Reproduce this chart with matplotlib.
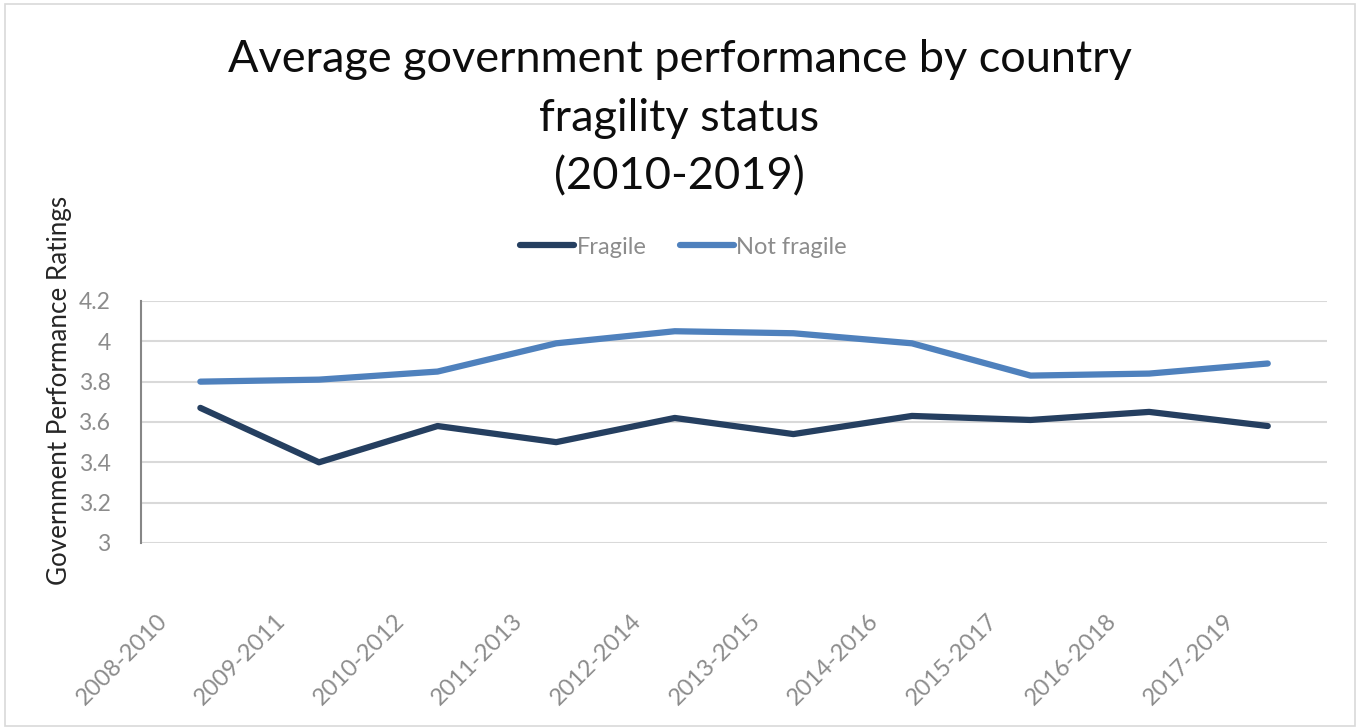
import numpy as np
import matplotlib.pyplot as plt
from matplotlib.patches import Rectangle
from matplotlib.transforms import ScaledTranslation

plt.rcParams['font.family'] = ['Lato', 'DejaVu Sans']

# Datos
periods = ["2008-2010", "2009-2011", "2010-2012", "2011-2013", "2012-2014",
           "2013-2015", "2014-2016", "2015-2017", "2016-2018", "2017-2019"]
fragile = [3.67, 3.40, 3.58, 3.50, 3.62, 3.54, 3.63, 3.61, 3.65, 3.58]
not_fragile = [3.80, 3.81, 3.85, 3.99, 4.05, 4.04, 3.99, 3.83, 3.84, 3.89]
y_ticks = [3, 3.2, 3.4, 3.6, 3.8, 4, 4.2]
y_labels = ["3", "3.2", "3.4", "3.6", "3.8", "4", "4.2"]

fig = plt.figure(figsize=(13.59, 7.27), dpi=100)
ax = fig.add_axes([0.1038, 0.2531, 0.8727, 0.3329])

x = np.arange(len(periods))
ax.plot(x, fragile, color="#253f60", lw=4.5, solid_capstyle="round",
        label="Fragile")
ax.plot(x, not_fragile, color="#4f81bd", lw=4.5, solid_capstyle="round",
        label="Not fragile")

ax.set_xlim(-0.5, len(periods) - 0.5)
ax.set_ylim(3, 4.2)
ax.set_yticks(y_ticks)
ax.set_yticklabels(y_labels, fontsize=16.5, color="#8c8c8c")
ax.set_xticks(x)
ax.set_xticklabels([])
ax.tick_params(axis="both", length=0)
ax.tick_params(axis="y", pad=22)

# Etiquetas del eje x (rotadas, desplazadas como en Excel)
offset = ScaledTranslation(-0.44, -0.67, fig.dpi_scale_trans)
for xi, lab in zip(x, periods):
    ax.text(xi, 0, lab, transform=ax.get_xaxis_transform() + offset,
            rotation=45, ha="right", va="top", rotation_mode="anchor",
            fontsize=17, color="#8c8c8c")

ax.grid(axis="y", color="#d9d9d9", lw=1.5)
ax.set_axisbelow(True)
for side in ["top", "right", "bottom"]:
    ax.spines[side].set_visible(False)
ax.spines["left"].set_color("#868686")
ax.spines["left"].set_linewidth(1.5)

ax.set_ylabel("Government Performance Ratings", fontsize=18.7, color="#262626",
              va="center")
ax.yaxis.set_label_coords(-0.069, 0.63)

fig.text(0.5, 1 - 39 / 727,
         "Average government performance by country\nfragility status\n(2010-2019)",
         ha="center", va="top", fontsize=32.5, linespacing=1.54, color="#0d0d0d")

fig.legend(loc="center", bbox_to_anchor=(0.503, 0.66), ncol=2, frameon=False,
           fontsize=17, handlelength=2.3, columnspacing=1.4,
           labelcolor="#8c8c8c", handletextpad=0.1)

# Borde del area del grafico
fig.patches.append(Rectangle((0.004, 0.002), 0.993, 0.993, transform=fig.transFigure,
                             fill=False, edgecolor="#d9d9d9", lw=1.2))

fig.savefig("out.png", dpi=100)
